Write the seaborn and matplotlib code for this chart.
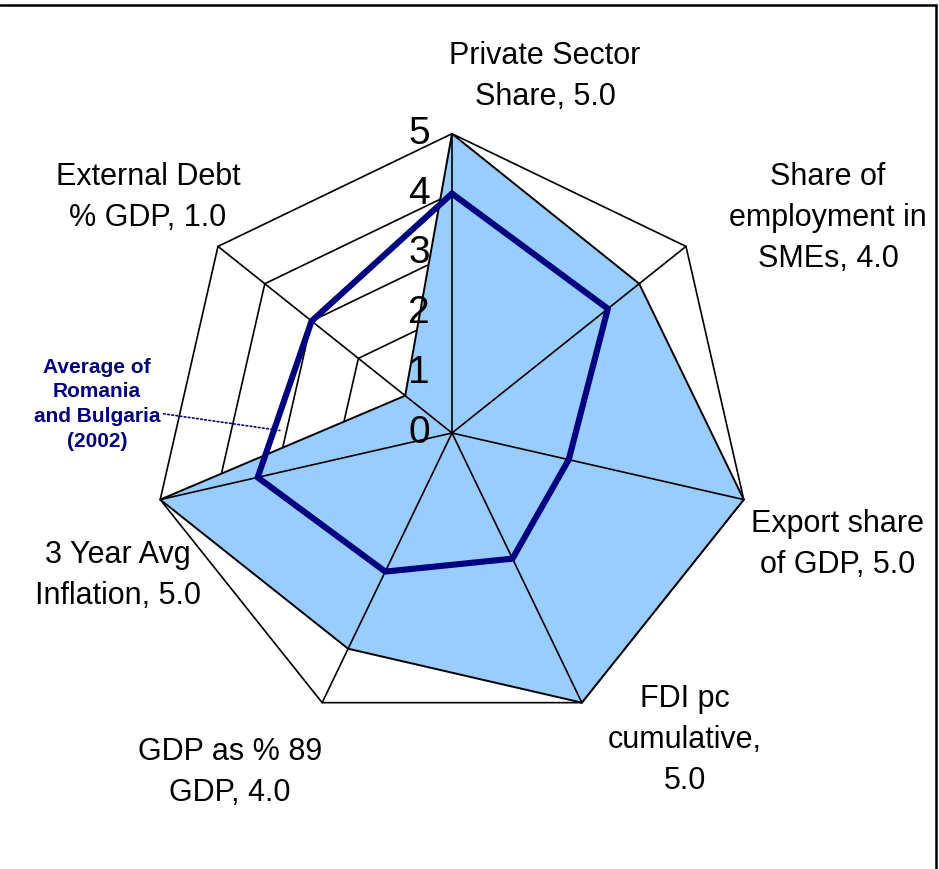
import numpy as np
import pandas as pd
import matplotlib
matplotlib.use("Agg")
import matplotlib.pyplot as plt
import seaborn as sns

# chart data
categories = ["Private Sector\nShare, 5.0",
              "Share of\nemployment in\nSMEs, 4.0",
              "Export share\nof GDP, 5.0",
              "FDI pc\ncumulative,\n5.0",
              "GDP as % 89\nGDP, 4.0",
              "3 Year Avg\nInflation, 5.0",
              "External Debt\n% GDP, 1.0"]
country_scores = [5.0, 4.0, 5.0, 5.0, 4.0, 5.0, 1.0]
ro_bg_average = [4.0, 3.33, 2.0, 2.33, 2.57, 3.33, 3.0]
ring_levels = [0, 1, 2, 3, 4, 5]
note_text = "Average of\nRomania\nand Bulgaria\n(2002)"

# label offsets from the outer vertex, in pixels
label_offsets = [(93, 57), (142, 28), (94, -45), (103, -37),
                 (-92, -70), (-42, -76), (-70, 49)]

sns.set_style("white")
plt.rcParams['font.family'] = ['Liberation Sans', 'DejaVu Sans']
plt.rcParams['text.color'] = 'black'

navy = "#000080"
fill_blue = "#99CCFF"

n = len(categories)
theta = 2 * np.pi * np.arange(n) / n

def to_xy(r):
    r = np.asarray(r, dtype=float)
    return r * np.sin(theta), r * np.cos(theta)

def closed(a):
    return np.append(a, a[0])

fig = plt.figure(figsize=(9.39, 8.69), dpi=100)
ax = fig.add_axes([0, 0, 1, 1])
ax.set_xlim(-7.551, 8.136)
ax.set_ylim(-7.284, 7.234)
ax.axis("off")

# polygon grid rings (behind the fill)
for lvl in ring_levels[1:]:
    gx, gy = to_xy([lvl] * n)
    ax.plot(closed(gx), closed(gy), color="black", lw=1.2, zorder=0.5)

# filled series
fx, fy = to_xy(country_scores)
ax.fill(closed(fx), closed(fy), facecolor=fill_blue, edgecolor="black",
        linewidth=1.4, zorder=1)

# spokes on top of the fill
ox, oy = to_xy([ring_levels[-1]] * n)
for i in range(n):
    ax.plot([0, ox[i]], [0, oy[i]], color="black", lw=1.2, zorder=2)

# average line
lx, ly = to_xy(ro_bg_average)
df = pd.DataFrame({"x": closed(lx), "y": closed(ly)})
sns.lineplot(data=df, x="x", y="y", sort=False, estimator=None,
             color=navy, lw=4.4, ax=ax, zorder=3)
ax.set_xlabel("")
ax.set_ylabel("")

# radial tick labels along the top axis
for lvl in ring_levels:
    ax.text(-0.55, lvl, str(lvl), fontsize=28, ha="center", va="center",
            color="black", zorder=4)

# category labels
for i, lab in enumerate(categories):
    ax.annotate(lab, xy=(ox[i], oy[i]), xytext=label_offsets[i],
                textcoords="offset pixels", ha="center", va="center",
                fontsize=22, linespacing=1.48, color="black")

# series note with dotted leader
t = 0.3
px = lx[5] + t * (lx[6] - lx[5]) + 0.1
py = ly[5] + t * (ly[6] - ly[5])
ax.annotate(note_text, xy=(px, py), xytext=(-5.93, 0.48),
            ha="center", va="center", fontsize=15, fontweight="bold",
            color=navy, linespacing=1.37,
            arrowprops=dict(arrowstyle="-", linestyle=(0, (1, 1.5)),
                            color=navy, lw=1.2, shrinkA=0, shrinkB=0))

# chart frame (top and right edges)
fig.add_artist(plt.Line2D([0, 0.997], [0.994, 0.994], color="black", lw=1.8,
                          transform=fig.transFigure))
fig.add_artist(plt.Line2D([0.997, 0.997], [0, 0.994], color="black", lw=1.8,
                          transform=fig.transFigure))

fig.savefig("out.png", dpi=100)
